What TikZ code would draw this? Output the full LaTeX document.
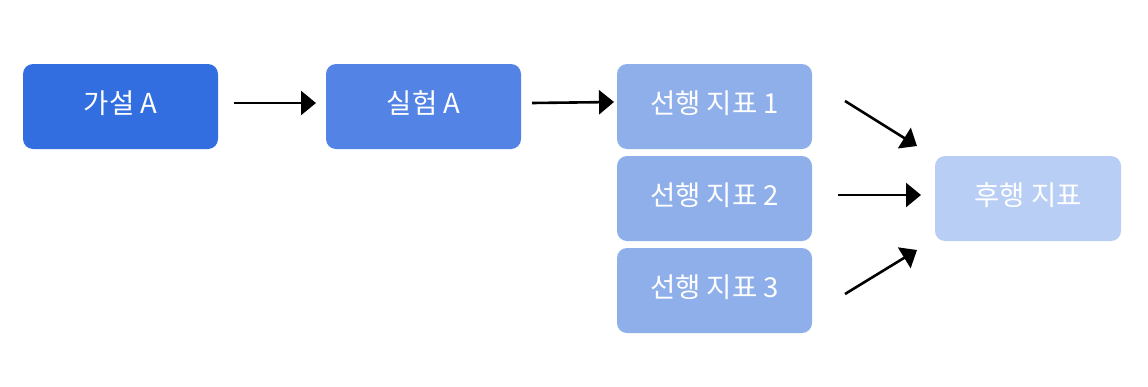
\documentclass[tikz,border=0pt]{standalone}
\usepackage{fontspec}
\newfontfamily\kr{Noto Sans CJK KR}
\usetikzlibrary{arrows.meta}
\definecolor{c1}{HTML}{336EE0}
\definecolor{c2}{HTML}{5283E5}
\definecolor{c3}{HTML}{8FAFEA}
\definecolor{c4}{HTML}{B8CEF4}
\tikzset{
  box/.style={rounded corners=10pt, minimum width=195pt, minimum height=85pt, inner sep=0pt, text=white, font=\kr\fontsize{27.5}{30}\selectfont},
  arr/.style={line width=2.6pt, -{Triangle[length=15pt,width=24pt]}},
}
\begin{document}
\begin{tikzpicture}[x=1pt,y=-1pt]
\useasboundingbox (0,0) rectangle (1148,386);
\node[box, fill=c1] (a) at (120.5,106.5) {};
\node[box, fill=c2] (b) at (423.5,106.5) {};
\node[box, fill=c3] (p1) at (714.5,106.5) {};
\node[box, fill=c3] (p2) at (714.5,198.5) {};
\node[box, fill=c3] (p3) at (714.5,290.5) {};
\node[box, fill=c4, minimum width=186pt] (l) at (1028,198.5) {};
\node[box] (ta) at (120.5,103) {가설 A};
\node[box] (tb) at (423.5,103) {실험 A};
\node[box] (t1) at (714.5,103) {선행 지표 1};
\node[box] (t2) at (714.5,195) {선행 지표 2};
\node[box] (t3) at (714.5,287) {선행 지표 3};
\node[box, minimum width=186pt] (tl) at (1028,195) {후행 지표};
\coordinate (s1) at (234,103); \coordinate (e1) at (316,103);
\coordinate (s2) at (532,103); \coordinate (e2) at (614,102);
\coordinate (s3) at (845,101); \coordinate (e3) at (917,146);
\coordinate (s4) at (838,195); \coordinate (e4) at (921,195);
\coordinate (s5) at (845,294); \coordinate (e5) at (917,250);
\draw[arr] (s1) -- (e1);
\draw[arr] (s2) -- (e2);
\draw[arr] (s3) -- (e3);
\draw[arr] (s4) -- (e4);
\draw[arr] (s5) -- (e5);
\end{tikzpicture}
\end{document}
